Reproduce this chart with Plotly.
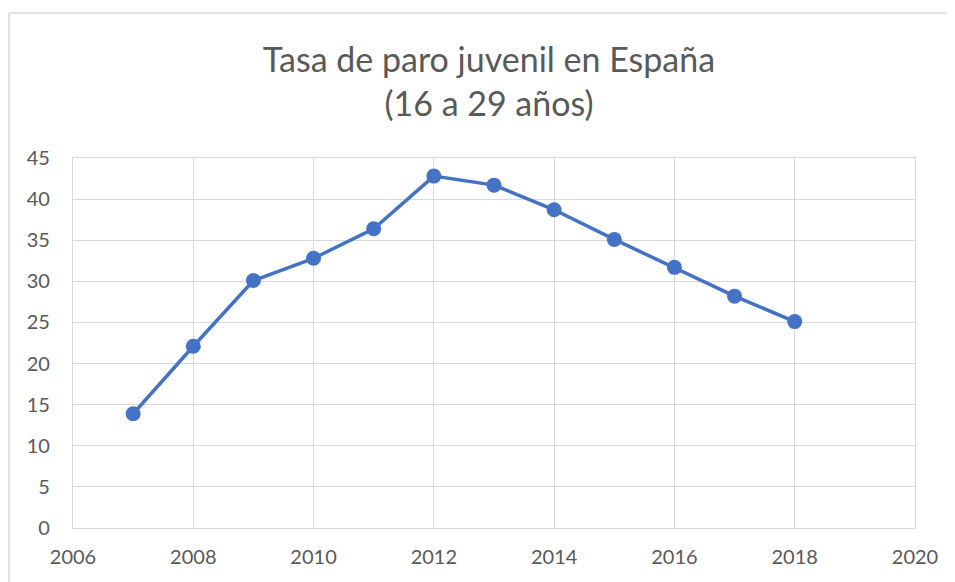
import plotly.graph_objects as go

years = [2007, 2008, 2009, 2010, 2011, 2012, 2013, 2014, 2015, 2016, 2017, 2018]
tasa = [13.9, 22.1, 30.1, 32.8, 36.4, 42.8, 41.7, 38.7, 35.1, 31.7, 28.2, 25.1]
x_ticks = [2006, 2008, 2010, 2012, 2014, 2016, 2018, 2020]
y_ticks = [0, 5, 10, 15, 20, 25, 30, 35, 40, 45]
title_text = "Tasa de paro juvenil en España<br>(16 a 29 años)"

# page body has an 8px margin; size the figure to fit the window
W, H = 947, 574
L, R, T, B = 65, 40, 150, 54
pw, ph = W - L - R, H - T - B

fig = go.Figure()
fig.add_trace(go.Scatter(
    x=years, y=tasa, mode="lines+markers",
    line=dict(color="#4472C4", width=3.5),
    marker=dict(color="#4472C4", size=15),
    showlegend=False, cliponaxis=False,
))

grid = "#d9d9d9"
font_fam = "Lato, 'Open Sans', sans-serif"
fig.update_layout(
    width=W, height=H,
    margin=dict(l=L, r=R, t=T, b=B),
    paper_bgcolor="white", plot_bgcolor="white",
    font=dict(family=font_fam, color="#595959"),
    title=dict(text=title_text, x=481 / W, xanchor="center",
               y=1 - 64 / H, yanchor="middle",
               font=dict(size=34, color="#595959", family=font_fam)),
    xaxis=dict(range=[2006, 2020], tickvals=x_ticks, showgrid=True,
               gridcolor=grid, gridwidth=1.3, zeroline=False,
               showline=True, linecolor=grid, linewidth=1.3, mirror=True,
               tickfont=dict(size=20, color="#595959"),
               ticks="", ticklabelstandoff=11),
    yaxis=dict(range=[0, 45], tickvals=y_ticks, showgrid=True,
               gridcolor=grid, gridwidth=1.3, zeroline=False,
               showline=True, linecolor=grid, linewidth=1.3, mirror=True,
               tickfont=dict(size=20, color="#595959"),
               ticks="", ticklabelstandoff=18),
)

# outer chart border (cropped at right and bottom)
bx = (1 - L) / pw
by = (H - B - 5) / ph
fig.add_shape(type="line", xref="paper", yref="paper",
              x0=bx, y0=by, x1=1.3, y1=by, line=dict(color=grid, width=1.5))
fig.add_shape(type="line", xref="paper", yref="paper",
              x0=bx, y0=by, x1=bx, y1=-0.3, line=dict(color=grid, width=1.5))

fig.write_html("out.html")
